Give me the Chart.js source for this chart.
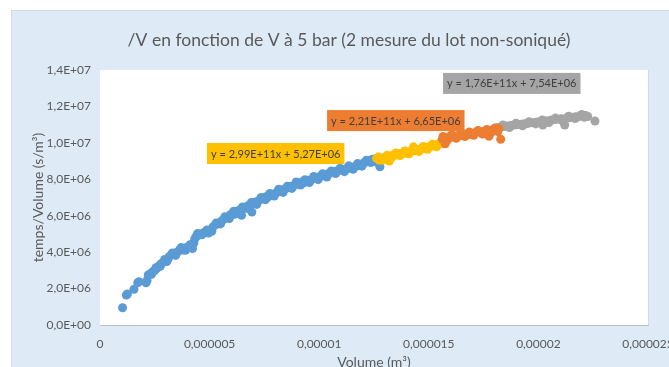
<!DOCTYPE html>
<html>
<head>
<meta charset="utf-8">
<script src="https://cdn.jsdelivr.net/npm/chart.js@4"></script>
<style>
  body { margin: 0; background: #fff; width: 669px; height: 367px; overflow: hidden; }
  #box { position: absolute; left: 11px; top: 10px; width: 700px; height: 356px;
         background: #DEEBF7; border-left: 1px solid #D3DCE6; border-top: 1px solid #D3DCE6; }
</style>
</head>
<body>
<div id="box"><canvas id="chart" width="700" height="356"></canvas></div>
<script>
// volume in 1e-6 m3, temps/volume in 1e6 s/m3
var blueX = [1.03, 1.20, 1.25, 1.55, 1.72, 1.78, 2.10, 2.15, 2.20, 2.30, 2.40, 2.50, 2.60, 2.70, 2.80, 2.90,
  3.00, 3.05, 3.15, 3.25, 3.35, 3.45, 3.55, 3.65, 3.75, 3.85, 3.95, 4.05, 4.15, 4.22, 4.28, 4.32, 4.38,
  4.48, 4.58, 4.70, 4.82, 4.95, 5.05, 5.15, 5.25, 5.35, 5.45, 5.55, 5.65, 5.75, 5.85, 5.95, 6.05, 6.15,
  6.25, 6.35, 6.46, 6.55, 6.65, 6.75, 6.85, 6.93, 7.00, 7.10, 7.20, 7.30, 7.40, 7.50, 7.60, 7.70, 7.80,
  7.90, 8.00, 8.10, 8.20, 8.30, 8.40, 8.50, 8.60, 8.70, 8.80, 8.90, 9.00, 9.10, 9.20, 9.30, 9.40, 9.50,
  9.60, 9.70, 9.80, 9.90, 10.00, 10.10, 10.20, 10.30, 10.40, 10.50, 10.60, 10.70, 10.80, 10.90, 11.00,
  11.10, 11.20, 11.30, 11.40, 11.50, 11.60, 11.70, 11.80, 11.90, 12.00, 12.10, 12.20, 12.30, 12.40,
  12.50, 12.60, 12.77,
  2.35, 2.55, 2.75, 2.95, 3.10, 3.30, 3.50, 3.70, 3.90, 4.10, 4.45, 4.65, 4.88, 5.10, 5.30, 5.50, 5.70,
  5.90, 6.10, 6.30, 6.50, 6.70, 6.90, 7.15, 7.35, 7.55, 7.75, 7.95, 8.15, 8.35, 8.55, 8.75, 8.95, 9.15,
  9.35, 9.55, 9.75, 9.95, 10.15, 10.35, 10.55, 10.75, 10.95, 11.15, 11.35, 11.55, 11.75, 11.95, 12.15,
  12.35];
var blueY = [0.95, 1.65, 1.70, 1.96, 2.32, 2.38, 2.32, 2.45, 2.75, 2.82, 2.92, 3.00, 3.12, 3.25, 3.38, 3.45,
  3.55, 3.48, 3.75, 3.85, 3.90, 3.82, 4.02, 4.15, 4.12, 4.22, 4.25, 4.30, 4.32, 4.20, 4.50, 4.72, 4.85,
  4.92, 5.00, 5.05, 5.12, 5.05, 5.22, 5.38, 5.48, 5.55, 5.62, 5.72, 5.80, 5.88, 5.95, 6.05, 6.12, 6.08,
  6.22, 6.30, 6.02, 6.40, 6.45, 6.55, 6.60, 6.20, 6.70, 6.75, 6.80, 6.88, 6.92, 6.98, 7.05, 7.05, 7.15,
  7.18, 7.22, 7.30, 7.35, 7.38, 7.45, 7.50, 7.55, 7.62, 7.60, 7.70, 7.75, 7.78, 7.85, 7.80, 7.90, 7.95,
  7.92, 8.02, 8.05, 8.10, 8.12, 8.18, 8.22, 8.25, 8.30, 8.34, 8.38, 8.42, 8.45, 8.48, 8.52,
  8.50, 8.56, 8.60, 8.62, 8.65, 8.69, 8.72, 8.77, 8.82, 8.87, 8.93, 8.98, 9.03, 9.08,
  9.12, 8.95, 8.69,
  2.78, 3.15, 3.22, 3.60, 3.62, 3.95, 3.98, 4.25, 4.10, 4.40, 5.02, 4.95, 5.22, 5.15, 5.60, 5.55, 5.95,
  5.85, 6.25, 6.12, 6.48, 6.40, 6.72, 6.62, 7.00, 6.88, 7.22, 7.08, 7.45, 7.28, 7.62, 7.50, 7.85, 7.68,
  7.98, 7.82, 8.15, 7.98, 8.30, 8.12, 8.46, 8.32, 8.60, 8.42, 8.74, 8.55, 8.86, 8.72, 9.05,
  8.92];

var yellowX = [12.62, 12.75, 12.85, 12.95, 13.05, 13.15, 13.20, 13.25, 13.35, 13.45, 13.55, 13.65, 13.75,
  13.85, 13.95, 14.05, 14.15, 14.25, 14.30, 14.40, 14.50, 14.60, 14.70, 14.80, 14.90, 15.00, 15.10,
  15.20, 15.30, 15.40, 15.50, 15.58,
  12.70, 12.90, 13.10, 13.30, 13.50, 13.70, 13.90, 14.10, 14.35, 14.55, 14.75, 14.95, 15.15, 15.35, 15.55];
var yellowY = [9.15, 9.05, 9.12, 9.20, 9.18, 9.25, 9.00, 9.28, 9.30, 9.35, 9.33, 9.40, 9.42,
  9.45, 9.43, 9.50, 9.52, 9.55, 9.78, 9.58, 9.62, 9.65, 9.68, 9.70, 9.75, 9.78, 9.80,
  9.85, 9.88, 9.92, 9.95, 9.98,
  9.22, 9.05, 9.32, 9.18, 9.45, 9.30, 9.55, 9.40, 9.68, 9.52, 9.80, 9.65, 9.92, 9.78, 10.05];

var orangeX = [15.62, 15.70, 15.75, 15.80, 15.90, 16.00, 16.10, 16.20, 16.30, 16.40, 16.50, 16.60, 16.70,
  16.80, 16.90, 17.00, 17.10, 17.20, 17.30, 17.40, 17.50, 17.60, 17.70, 17.75, 17.80, 17.90, 18.00,
  18.10, 18.20, 18.28,
  15.65, 15.85, 16.05, 16.25, 16.45, 16.65, 16.85, 17.05, 17.25, 17.45, 17.65, 17.85, 18.05, 18.15];
var orangeY = [10.20, 10.28, 9.95, 10.25, 10.32, 10.30, 10.35, 10.33, 10.38, 10.42, 10.40, 10.45, 10.48,
  10.50, 10.46, 10.52, 10.55, 10.58, 10.60, 10.58, 10.63, 10.66, 10.62, 10.36, 10.68, 10.70, 10.72,
  10.75, 10.78, 10.20,
  10.35, 10.15, 10.45, 10.25, 10.52, 10.35, 10.60, 10.42, 10.68, 10.48, 10.74, 10.58, 10.82, 10.62];

var greyX = [18.00, 18.15, 18.30, 18.45, 18.60, 18.75, 18.90, 19.05, 19.20, 19.35, 19.50, 19.65, 19.80,
  19.95, 20.10, 20.20, 20.30, 20.45, 20.60, 20.75, 20.90, 21.05, 21.20, 21.25, 21.40, 21.55, 21.70,
  21.85, 22.00, 22.15, 22.25, 22.58,
  18.08, 18.38, 18.68, 18.98, 19.28, 19.58, 19.88, 20.18, 20.48, 20.78, 21.08, 21.38, 21.68, 21.98, 22.10];
var greyY = [10.80, 10.85, 10.88, 10.90, 10.92, 10.95, 10.98, 11.00, 11.02, 11.05, 11.06, 11.10, 11.12,
  11.14, 11.16, 10.98, 11.20, 11.22, 11.25, 11.28, 11.30, 11.32, 10.98, 11.34, 11.38, 11.40, 11.43,
  11.45, 11.48, 11.50, 11.45, 11.20,
  10.72, 10.98, 10.84, 11.08, 10.94, 11.16, 11.04, 11.26, 11.12, 11.36, 11.22, 11.46, 11.34, 11.56, 11.40];

var xTickLabels = ["0", "0,000005", "0,00001", "0,000015", "0,00002", "0,000025"];
var yTickLabels = ["0,0E+00", "2,0E+06", "4,0E+06", "6,0E+06", "8,0E+06", "1,0E+07", "1,2E+07", "1,4E+07"];

// trend line equations, anchored at (x, y) in data units (top-left of the box)
var trendText = ["y = 2,99E+11x + 5,27E+06", "y = 2,21E+11x + 6,65E+06", "y = 1,76E+11x + 7,54E+06"];
var trendX = [4.88, 10.36, 15.65];
var trendY = [9.99, 11.80, 13.84];
var trendFill = ["#FFC000", "#ED7D31", "#A5A5A5"];

var FONT = "Lato, sans-serif";
var TEXT = "#595959";

function pts(xs, ys) {
  return xs.map(function (x, k) { return { x: x, y: ys[k] }; });
}

var plotBg = {
  id: 'plotBg',
  beforeDatasetsDraw: function (chart) {
    var a = chart.chartArea, c = chart.ctx;
    c.save();
    c.fillStyle = '#ffffff';
    c.fillRect(a.left, a.top, a.right - a.left, a.bottom - a.top);
    c.restore();
  }
};

var trendLabels = {
  id: 'trendLabels',
  afterDatasetsDraw: function (chart) {
    var c = chart.ctx, sx = chart.scales.x, sy = chart.scales.y;
    c.save();
    c.font = "11px " + FONT;
    c.textBaseline = 'middle';
    for (var k = 0; k < trendText.length; k++) {
      var left = sx.getPixelForValue(trendX[k]);
      var top = sy.getPixelForValue(trendY[k]);
      var w = c.measureText(trendText[k]).width + 8;
      c.fillStyle = trendFill[k];
      c.fillRect(left, top, w, 21);
      c.fillStyle = '#404040';
      c.fillText(trendText[k], left + 4, top + 11);
    }
    c.restore();
  }
};

var ctx = document.getElementById("chart").getContext('2d');
var chart = new Chart(ctx, {
  type: 'scatter',
  data: {
    datasets: [{
      label: 'orange',
      data: pts(orangeX, orangeY),
      backgroundColor: '#ED7D31'
    }, {
      label: 'jaune',
      data: pts(yellowX, yellowY),
      backgroundColor: '#FFC000'
    }, {
      label: 'bleu',
      data: pts(blueX, blueY),
      backgroundColor: '#5B9BD5'
    }, {
      label: 'gris',
      data: pts(greyX, greyY),
      backgroundColor: '#A5A5A5'
    }]
  },
  options: {
    responsive: false,
    animation: false,
    layout: { padding: { left: 0, right: 26, top: 0, bottom: 0 } },
    elements: {
      point: { radius: 4.5, borderWidth: 0 }
    },
    plugins: {
      legend: { display: false },
      tooltip: { enabled: false },
      title: {
        display: true,
        text: '/V en fonction de V à 5 bar (2 mesure du lot non-soniqué)',
        color: TEXT,
        font: { family: FONT, size: 17.5, weight: 'normal' },
        padding: { top: 19, bottom: 19 }
      }
    },
    scales: {
      x: {
        type: 'linear',
        min: 0, max: 25,
        ticks: {
          stepSize: 5,
          color: TEXT,
          padding: 12,
          maxRotation: 0,
          font: { family: FONT, size: 12 },
          callback: function (v, i) { return xTickLabels[i]; }
        },
        grid: { color: '#D9D9D9', drawTicks: false },
        border: { display: true, color: '#BFBFBF' },
        title: {
          display: true,
          text: 'Volume (m³)',
          color: TEXT,
          font: { family: FONT, size: 14, lineHeight: 1 },
          padding: { top: 0, bottom: -2 }
        },
        afterFit: function (s) { s.height = 42; }
      },
      y: {
        min: 0, max: 14,
        ticks: {
          stepSize: 2,
          color: TEXT,
          padding: 9,
          font: { family: FONT, size: 12 },
          callback: function (v, i) { return yTickLabels[i]; }
        },
        grid: { color: '#D9D9D9', drawTicks: false },
        border: { display: false },
        title: {
          display: true,
          text: 'temps/Volume (s/m³)',
          color: TEXT,
          font: { family: FONT, size: 14 },
          padding: { top: 18, bottom: 0 }
        },
        afterFit: function (s) { s.width = 88; }
      },
      // empty right-hand strip, keeps the plot edge where it belongs
      yRight: {
        position: 'right',
        min: 0, max: 14,
        ticks: { display: false },
        grid: { display: false },
        border: { display: false },
        afterFit: function (s) { s.width = 38; }
      }
    }
  },
  plugins: [plotBg, trendLabels]
});
</script>
</body>
</html>
